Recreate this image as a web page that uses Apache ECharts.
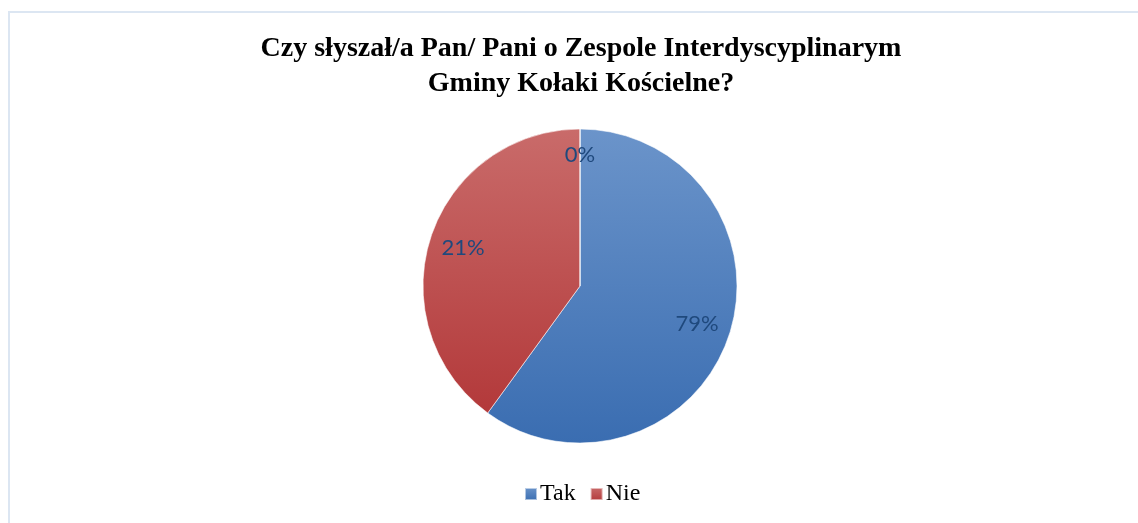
<!DOCTYPE html>
<html>
<head>
<meta charset="utf-8">
<script src="https://cdn.jsdelivr.net/npm/echarts@6/dist/echarts.min.js"></script>
<style>
  html, body { margin: 0; padding: 0; background: #fff; }
  #frame { position: absolute; left: 8px; top: 11px; right: 0; bottom: 0; border-left: 2px solid #dce6f2; border-top: 2px solid #dce6f2; }
  #main { width: 1138px; height: 523px; }
</style>
</head>
<body>
<div id="frame"></div>
<div id="main"></div>
<script>
// dane
var categories = ['Tak', 'Nie', ''];
var values = [60, 40, 0];
var labelTexts = ['79%', '21%', '0%'];

var topColors = ['#6b94ca', '#c96b6a', '#6b94ca'];
var bottomColors = ['#3a6db1', '#b3393a', '#3a6db1'];

function grad(i) {
  return {
    type: 'linear', x: 0, y: 0, x2: 0, y2: 1,
    colorStops: [{ offset: 0, color: topColors[i] }, { offset: 1, color: bottomColors[i] }]
  };
}

var sliceData = categories.map(function (c, i) {
  return { name: c, value: values[i], itemStyle: { color: grad(i) } };
});

var labelData = categories.map(function (c, i) {
  var item = { name: c, value: values[i], label: { formatter: labelTexts[i] } };
  if (values[i] === 0) item.label.offset = [0, -8];
  return item;
});

var chart = echarts.init(document.getElementById('main'));
var option = {
  animation: false,
  title: {
    text: 'Czy słyszał/a Pan/ Pani o Zespole Interdyscyplinarym\nGminy Kołaki Kościelne?',
    left: 576,
    top: 26,
    textAlign: 'center',
    textStyle: {
      fontFamily: '"Liberation Serif", "Times New Roman", serif',
      fontWeight: 'bold',
      fontSize: 28,
      lineHeight: 35,
      color: '#000'
    }
  },
  legend: {
    data: ['Tak', 'Nie'],
    left: 519,
    top: 477,
    itemWidth: 12,
    itemHeight: 12,
    itemGap: 14,
    icon: 'rect',
    textStyle: { fontFamily: '"Liberation Serif", "Times New Roman", serif', fontSize: 24, color: '#000', padding: [0, 0, 0, -2] }
  },
  series: [
    {
      type: 'pie',
      center: [580, 286],
      radius: 157,
      startAngle: 90,
      clockwise: true,
      silent: true,
      label: { show: false },
      labelLine: { show: false },
      itemStyle: { borderColor: 'rgba(255,255,255,0.55)', borderWidth: 1 },
      data: sliceData
    },
    {
      type: 'pie',
      center: [580, 286],
      radius: [83, 157],
      startAngle: 90,
      clockwise: true,
      silent: true,
      itemStyle: { color: 'rgba(0,0,0,0)' },
      label: {
        show: true,
        position: 'inside',
        fontFamily: 'Lato',
        fontSize: 22,
        color: '#1f497d'
      },
      labelLine: { show: false },
      emphasis: { disabled: true },
      data: labelData
    }
  ]
};
chart.setOption(option);
</script>
</body>
</html>
